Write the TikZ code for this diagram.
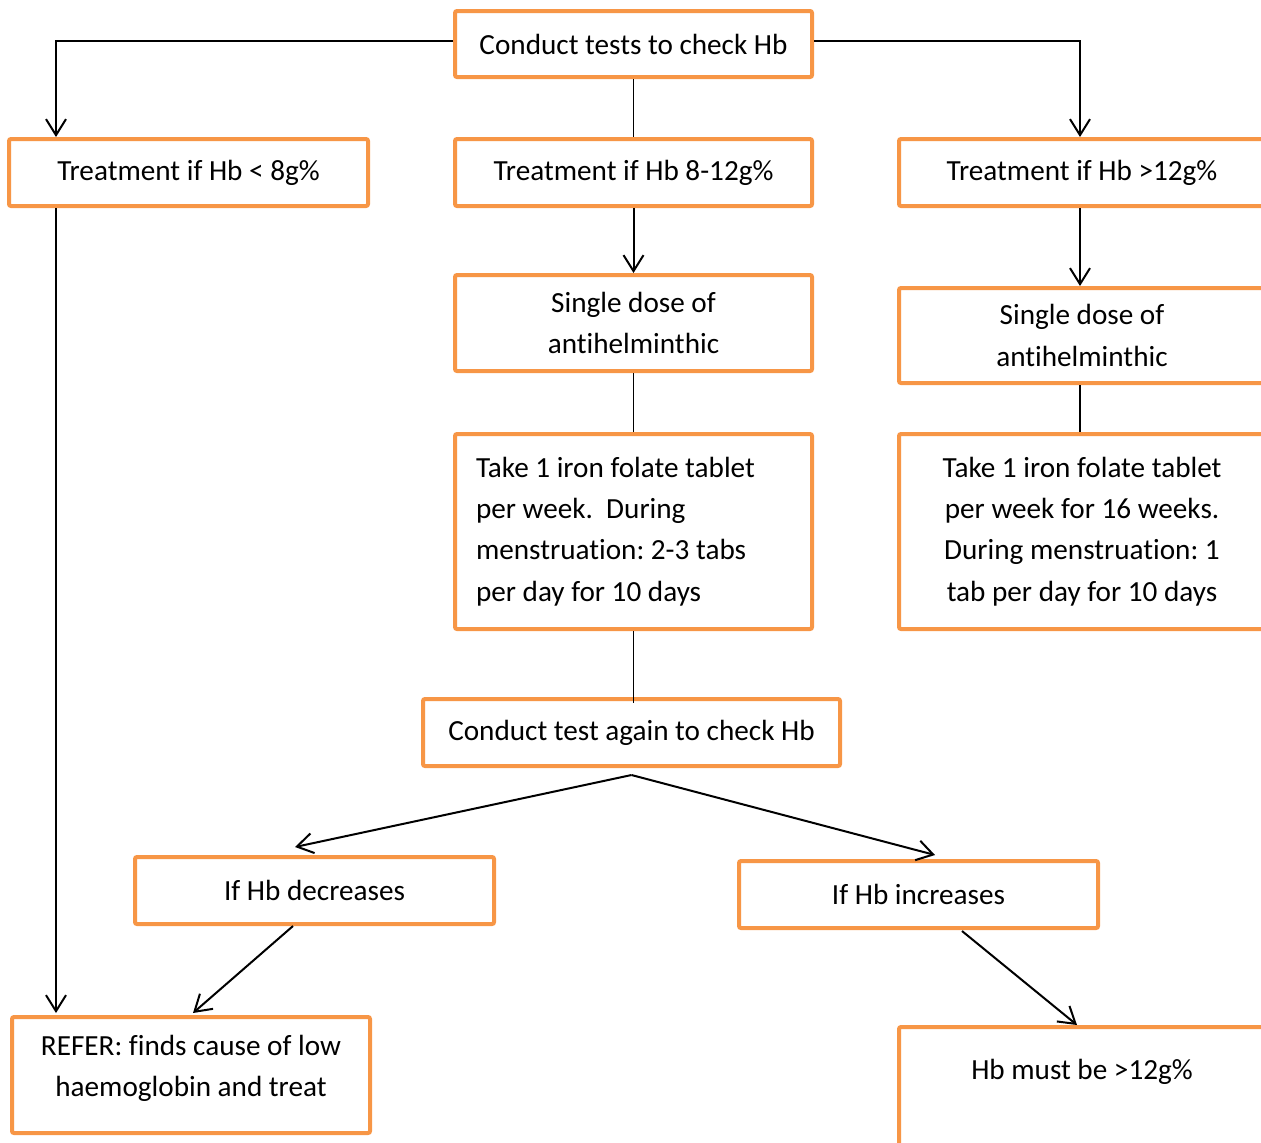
\documentclass[tikz,border=0pt]{standalone}
\usepackage{fontspec}
\setmainfont{Carlito}[Ligatures=NoCommon]
\usepackage{tikz}
\usetikzlibrary{arrows.meta,positioning}
\definecolor{boxorange}{HTML}{F79646}
\frenchspacing
\tikzset{
  box/.style={draw=boxorange,line width=2pt,rounded corners=1pt,fill=white,align=center,inner sep=0pt,font=\fontsize{14.6}{20.6}\selectfont},
  wide/.style={minimum width=178.5pt},
  ar/.style={-{Straight Barb[length=8pt,width=10pt]},line width=1pt},
  ln/.style={line width=0.8pt}
}

\begin{document}
\begin{tikzpicture}[x=0.5pt,y=-0.5pt]
\useasboundingbox (0,0) rectangle (1261,1142);
\clip (0,0) rectangle (1261,1142);
% top row
\node[box,wide,minimum height=33pt] (tests) at (633.5,44) {Conduct tests to check Hb};
\node[box,minimum width=179.5pt,minimum height=33.5pt] (lowb) at (188.5,172.5) {Treatment if Hb < 8g\%};
\node[box,wide,minimum height=33.5pt] (midb) at (633.5,172.5) {Treatment if Hb 8-12g\%};
\node[box,minimum width=183pt,minimum height=33.5pt] (highb) at (1082,172.5) {Treatment if Hb >12g\%};
% antihelminthic
\node[box,wide,minimum height=48pt] (dosemid) at (633.5,323) {Single dose of\\antihelminthic};
\node[box,minimum width=183pt,minimum height=47.5pt] (dosehigh) at (1082,335.5) {Single dose of\\antihelminthic};
% iron folate
\node[box,wide,minimum height=97.5pt,text width=157.5pt,align=flush left] (ironmid) at (633.5,531.5)
  {Take 1 iron folate tablet\\per week.\ \ During\\menstruation: 2-3 tabs\\per day for 10 days};
\node[box,minimum width=183pt,minimum height=97.5pt] (ironhigh) at (1082,531.5)
  {Take 1 iron folate tablet\\per week for 16 weeks.\\During menstruation: 1\\tab per day for 10 days};
% retest and outcomes
\node[box,minimum width=208.5pt,minimum height=33.5pt] (again) at (631.5,732.5) {Conduct test again to check Hb};
\node[box,minimum width=179.5pt,minimum height=33.5pt] (dec) at (314.5,890.5) {If Hb decreases};
\node[box,minimum width=179.5pt,minimum height=33.5pt] (inc) at (918.5,894.5) {If Hb increases};
\node[box,minimum width=179pt,minimum height=58pt,text depth=9pt] (refer) at (191,1075) {REFER: finds cause of low\\haemoglobin and treat};
\node[box,minimum width=183pt,minimum height=60pt,text depth=18pt] (goal) at (1082,1087) {Hb must be >12g\%};

% connectors
\draw[ar] ([yshift=1.5pt]tests.west) -| ([xshift=24.5pt]lowb.north west);
\draw[ar] ([yshift=1.5pt]tests.east) -| ([xshift=-1pt]highb.north);
\draw[ln] (tests) -- (midb);
\draw[ar] (midb) -- (dosemid);
\draw[ar] ([xshift=-1pt]highb.south) -- ([xshift=-1pt]dosehigh.north);
\draw[ln] (dosemid) -- (ironmid);
\draw[ln] ([xshift=-1pt]dosehigh.south) -- ([xshift=-1pt]ironhigh.north);
\draw[ln] (ironmid.south) -- ([yshift=-3pt]ironmid.south |- again.north);
\draw[ar] ([yshift=-3.5pt]again.south) -- ([shift={(-9.75pt,4pt)}]dec.north);
\draw[ar] ([yshift=-3.5pt]again.south) -- ([shift={(8.25pt,2pt)}]inc.north);
\draw[ar] ([xshift=-10.75pt]dec.south) -- ([shift={(1pt,1pt)}]refer.north);
\draw[ar] ([shift={(21.75pt,-0.5pt)}]inc.south) -- ([xshift=-2.5pt]goal.north);
\draw[ar] ([xshift=24.5pt]lowb.south west) -- ([xshift=24.5pt,yshift=1pt]lowb.south west |- refer.north);
\end{tikzpicture}
\end{document}
